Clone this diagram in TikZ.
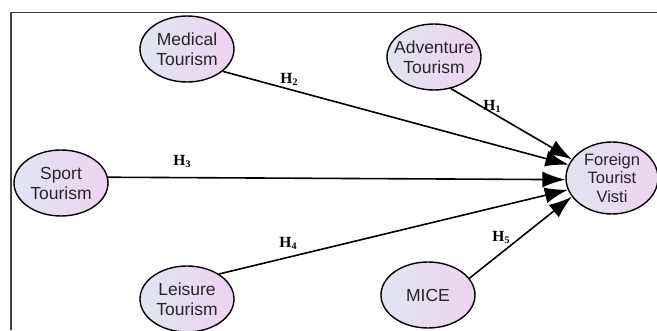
\documentclass[tikz,border=0pt]{standalone}
\usepackage{fontspec}
\setmainfont{Liberation Sans}
\newfontfamily\hypfont{Liberation Serif}
\usetikzlibrary{shapes.geometric,arrows.meta}
\definecolor{shadeleft}{HTML}{E1E5EF}
\definecolor{shaderight}{HTML}{EDD4F0}
\newcommand{\hyplabel}[1]{H\raisebox{-2pt}{\fontsize{10}{10}\selectfont #1}}
\begin{document}
\begin{tikzpicture}[x=1pt,y=1pt,
  construct/.style={ellipse,draw=black,line width=1.4pt,left color=shadeleft,right color=shaderight,
    minimum width=94pt,minimum height=66pt,inner xsep=-8pt,inner ysep=0pt,align=center,
    text=black!85,font=\fontsize{17.5}{20}\selectfont},
  hyp/.style={font=\hypfont\bfseries\fontsize{15.5}{15.5}\selectfont,inner sep=0pt},
  link/.style={line width=1.6pt,-{Latex[length=23pt,width=16pt]}}]
\useasboundingbox (0,0) rectangle (657,330);
\draw[black!75,line width=1.2pt] (11,0) -- (11,317.5) -- (657,317.5);
% constructs
\node[construct] (med) at (187,281) {Medical\\Tourism};
\node[construct] (adv) at (434,273) {Adventure\\Tourism};
\node[construct] (spt) at (61,147) {Sport\\Tourism};
\node[construct] (lei) at (187,31) {Leisure\\Tourism};
\node[construct] (mice) at (428,35) {MICE};
\node[construct,minimum width=92pt,minimum height=72pt,font=\fontsize{16.5}{18.5}\selectfont] (ftv) at (612,152) {Foreign\\Tourist\\Visti};
% hypotheses
\foreach \from/\fa/\ta in {adv/-62/155,med/-32/163,spt/7/182,lei/38/195,mice/22/205}
    \draw[link] (\from.\fa) -- (ftv.\ta);
\node[hyp] (h1) at (492,224) {\hyplabel{1}};
\node[hyp] (h2) at (289,251) {\hyplabel{2}};
\node[hyp] (h3) at (182,169) {\hyplabel{3}};
\node[hyp] (h4) at (288,87) {\hyplabel{4}};
\node[hyp] (h5) at (501,93) {\hyplabel{5}};
\end{tikzpicture}
\end{document}
